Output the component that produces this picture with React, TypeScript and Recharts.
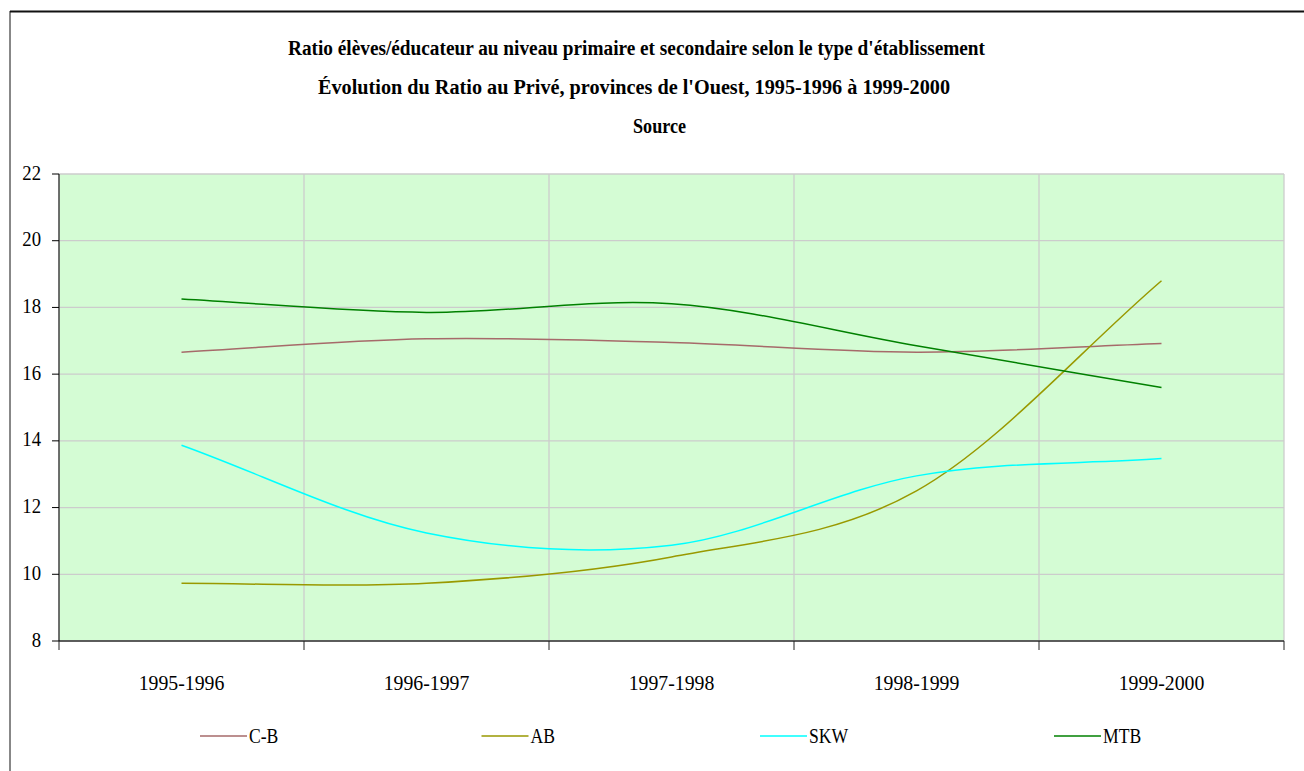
import React from 'react';
import { LineChart, Line, XAxis, YAxis, CartesianGrid } from 'recharts';

// ---------- data ----------
const CATEGORIES = ['1995-1996', '1996-1997', '1997-1998', '1998-1999', '1999-2000'];
const CB = [16.66, 17.06, 16.95, 16.66, 16.92];
const AB = [9.73, 9.73, 10.52, 12.5, 18.8];
const SKW = [13.87, 11.24, 10.87, 12.95, 13.47];
const MTB = [18.25, 17.85, 18.11, 16.85, 15.6];
const Y_TICKS = [8, 10, 12, 14, 16, 18, 20, 22];
const SERIES_NAMES = ['C-B', 'AB', 'SKW', 'MTB'];
const TITLE_LINES = [
  "Ratio élèves/éducateur au niveau primaire et secondaire selon le type d'établissement",
  "Évolution du Ratio au Privé, provinces de l'Ouest, 1995-1996 à 1999-2000",
  'Source',
];

// ---------- styling / layout ----------
const SERIES_KEYS = ['cb', 'ab', 'skw', 'mtb'];
const SERIES_COLORS = ['#a66a6a', '#999900', '#00ffff', '#008000'];
const FONT = 'Liberation Serif, DejaVu Serif, serif';
const TITLE_LAYOUT = [
  { cx: 636.5, y: 55, w: 697 },
  { cx: 634, y: 94, w: 632 },
  { cx: 659.5, y: 133, w: 53 },
];
const LEGEND_X = [200, 481.5, 760, 1054];
const LEGEND_Y = 736;

const data = CATEGORIES.map((c, i) => ({
  idx: i,
  category: c,
  cb: CB[i],
  ab: AB[i],
  skw: SKW[i],
  mtb: MTB[i],
}));
const X_BOUNDS = [...CATEGORIES.map((_, i) => i - 0.5), CATEGORIES.length - 0.5];

// Excel-like smoothed line (Catmull-Rom with extrapolated end points)
const excelSmooth = (context: any) => {
  let pts: number[][] = [];
  return {
    areaStart() {},
    areaEnd() {},
    lineStart() {
      pts = [];
    },
    point(x: number, y: number) {
      pts.push([+x, +y]);
    },
    lineEnd() {
      const n = pts.length;
      if (n === 0) return;
      context.moveTo(pts[0][0], pts[0][1]);
      for (let i = 0; i < n - 1; i++) {
        const p1 = pts[i];
        const p2 = pts[i + 1];
        const p0 = i > 0 ? pts[i - 1] : [2 * p1[0] - p2[0], 2 * p1[1] - p2[1]];
        const p3 = i + 2 < n ? pts[i + 2] : [2 * p2[0] - p1[0], 2 * p2[1] - p1[1]];
        context.bezierCurveTo(
          p1[0] + (p2[0] - p0[0]) / 6,
          p1[1] + (p2[1] - p0[1]) / 6,
          p2[0] - (p3[0] - p1[0]) / 6,
          p2[1] - (p3[1] - p1[1]) / 6,
          p2[0],
          p2[1]
        );
      }
    },
  };
};

const textStyle = { fontFamily: FONT };

const XTick = (props: any) => {
  const { x, y, payload, width } = props;
  const i = Math.round(payload.value + 0.5);
  if (i < 0 || i >= CATEGORIES.length) return <g />;
  const w = typeof width === 'number' ? width : 1224;
  const half = w / CATEGORIES.length / 2;
  return (
    <text
      transform={`translate(${x + half},${y + 38}) scale(0.9,1)`}
      textAnchor="middle"
      style={textStyle}
      fontSize={22}
      fill="#000"
    >
      {CATEGORIES[i]}
    </text>
  );
};

const YTick = (props: any) => {
  const { x, y, payload } = props;
  return (
    <text
      transform={`translate(${x},${y + 5.5}) scale(0.85,1)`}
      textAnchor="end"
      style={textStyle}
      fontSize={22}
      fill="#000"
    >
      {payload.value}
    </text>
  );
};

export default function App() {
  return (
    <div
      style={{
        position: 'fixed',
        left: 0,
        top: 0,
        width: 1304,
        height: 771,
        overflow: 'hidden',
        background: '#fff',
      }}
    >
      <LineChart
        width={1304}
        height={771}
        data={data}
        margin={{ top: 174, right: 20, bottom: 0, left: 0 }}
      >
        <CartesianGrid stroke="#cccccc" strokeWidth={1.3} fill="#d4fcd4" fillOpacity={1} />
        <XAxis
          dataKey="idx"
          type="number"
          domain={[-0.5, CATEGORIES.length - 0.5]}
          ticks={X_BOUNDS}
          interval={0}
          height={130}
          tickSize={9}
          axisLine={{ stroke: '#333', strokeWidth: 1.3 }}
          tickLine={{ stroke: '#222' }}
          tick={<XTick />}
        />
        <YAxis
          type="number"
          domain={[8, 22]}
          ticks={Y_TICKS}
          interval={0}
          width={59}
          tickSize={7}
          tickMargin={11}
          axisLine={{ stroke: '#000' }}
          tickLine={{ stroke: '#000' }}
          tick={<YTick />}
        />
        {SERIES_KEYS.map((k, i) => (
          <Line
            key={k}
            dataKey={k}
            name={SERIES_NAMES[i]}
            type={excelSmooth as any}
            stroke={SERIES_COLORS[i]}
            strokeWidth={1.5}
            dot={false}
            activeDot={false}
            isAnimationActive={false}
          />
        ))}
      </LineChart>
      <svg
        width={1304}
        height={771}
        style={{ position: 'absolute', left: 0, top: 0, pointerEvents: 'none' }}
      >
        <line x1={10} y1={11.5} x2={1304} y2={11.5} stroke="#111" strokeWidth={2} />
        <line x1={10} y1={11} x2={10} y2={771} stroke="#111" strokeWidth={1} />
        {TITLE_LINES.map((t, i) => (
          <text
            key={i}
            x={TITLE_LAYOUT[i].cx}
            y={TITLE_LAYOUT[i].y}
            textAnchor="middle"
            style={textStyle}
            fontWeight="bold"
            fontSize={20}
            textLength={TITLE_LAYOUT[i].w}
            lengthAdjust="spacingAndGlyphs"
            fill="#000"
          >
            {t}
          </text>
        ))}
        {SERIES_NAMES.map((n, i) => (
          <g key={n}>
            <line
              x1={LEGEND_X[i]}
              y1={LEGEND_Y}
              x2={LEGEND_X[i] + 47}
              y2={LEGEND_Y}
              stroke={SERIES_COLORS[i]}
              strokeWidth={1.6}
            />
            <text
              transform={`translate(${LEGEND_X[i] + 49},${LEGEND_Y + 7}) scale(0.8,1)`}
              style={textStyle}
              fontSize={22}
              fill="#000"
            >
              {n}
            </text>
          </g>
        ))}
      </svg>
    </div>
  );
}
